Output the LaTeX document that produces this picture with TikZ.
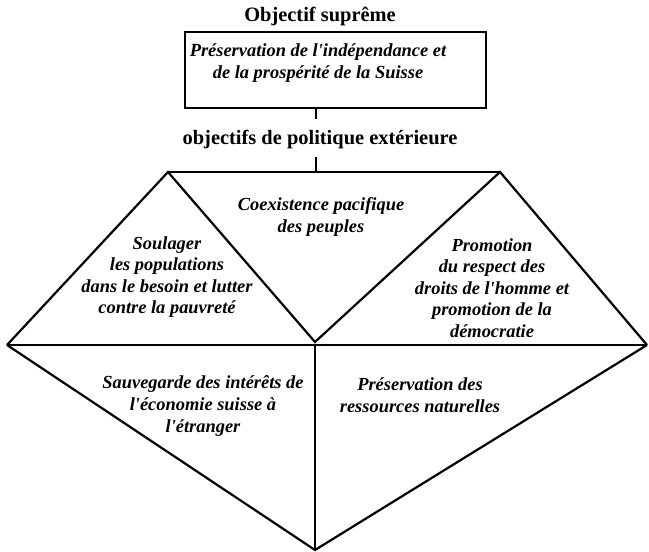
\documentclass[tikz,border=0pt]{standalone}
\usepackage{fontspec}
\setmainfont{Liberation Serif}
\newcommand{\apos}{\textquotesingle}
\begin{document}
\begin{tikzpicture}[x=1bp,y=-1bp,
  ln/.style={line width=2.2bp, line join=miter},
  boxln/.style={line width=2.6bp},
  lbl/.style={font=\fontsize{18.5}{21.7}\selectfont\bfseries\itshape, align=center, inner sep=0pt},
  head/.style={font=\fontsize{20.5}{22}\selectfont\bfseries, inner sep=0pt}]
\useasboundingbox (0,0) rectangle (649,552);
% main points
\coordinate (tl) at (168,172);
\coordinate (tr) at (500,172);
\coordinate (ml) at (7,345);
\coordinate (mr) at (647,345);
\coordinate (mc) at (315,345);
\coordinate (v) at (315,342);
\coordinate (bot) at (315,550);
\coordinate (topc) at (316,172);
% texts
\node[head] (title) at (320,16) {Objectif suprême};
\draw[boxln] (185,32) rectangle (486,108);
\node[lbl] (box) at (318,63) {Préservation de l\apos indépendance et\\de la prospérité de la Suisse};
\coordinate (boxs) at (316,108);
\node[head] (pol) at (320,139) {objectifs de politique extérieure};
\draw[ln] (boxs) -- (316,119);
\draw[ln] (316,157) -- (topc);
% shapes
\draw[ln] (tl) -- (tr);
\draw[ln] (ml) -- (tl) -- (v) -- (tr) -- (mr);
\draw[ln] (ml) -- (mr);
\draw[ln] (ml) -- (bot) -- (mr);
\draw[ln] (mc) -- (bot);
% labels
\node[lbl] (coex) at (321,217) {Coexistence pacifique\\des peuples};
\node[lbl] (soul) at (167,277) {Soulager\\les populations\\dans le besoin et lutter\\contre la pauvreté};
\node[lbl] (prom) at (492,288) {Promotion\\du respect des\\droits de l\apos homme et\\promotion de la\\démocratie};
\node[lbl] (sauv) at (203,406) {Sauvegarde des intérêts de\\l\apos économie suisse à\\l\apos étranger};
\node[lbl] (pres) at (420,395) {Préservation des\\ressources naturelles};
\end{tikzpicture}
\end{document}
